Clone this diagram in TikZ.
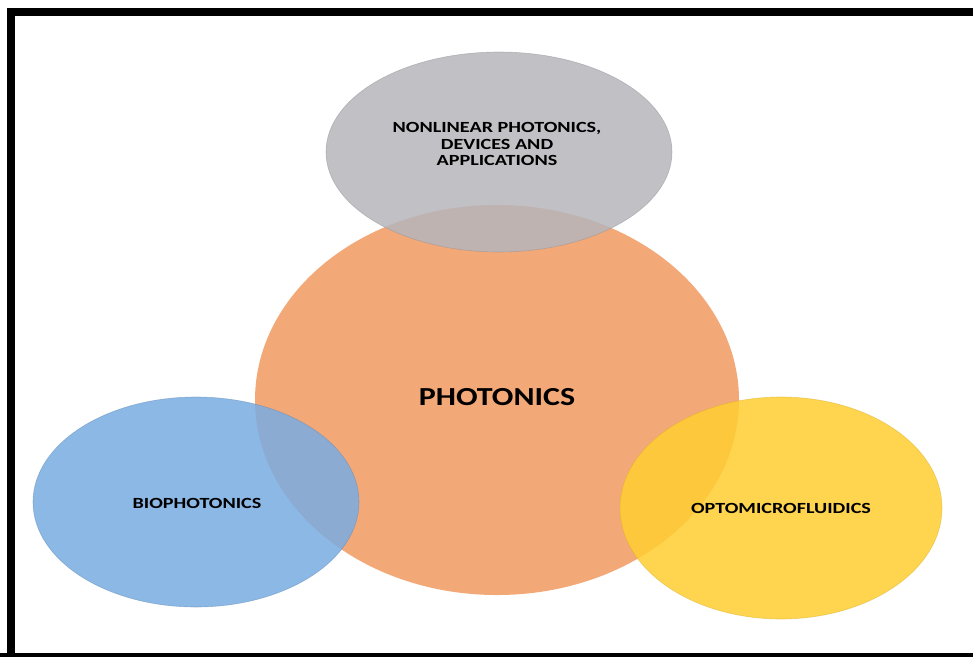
\documentclass[tikz,border=0pt]{standalone}
\usepackage{fontspec}
\setmainfont{Carlito}
\usepackage{graphicx}
\begin{document}
\begin{tikzpicture}[x=1pt,y=-1pt,
  bubble/.style={ellipse, minimum width=#1},
  lbl/.style={font=\bfseries\fontsize{15.5}{16.5}\selectfont, align=center, text=black},
  big/.style={font=\bfseries\fontsize{26}{28}\selectfont, text=black}]
\definecolor{orng}{HTML}{F3A878}
\definecolor{gry}{HTML}{B5B5BC}
\definecolor{blu}{HTML}{79ACE2}
\definecolor{ylw}{HTML}{FFCE31}
\useasboundingbox (0,0) rectangle (973,656);
\clip (0,0) rectangle (973,656);
\fill[white] (0,0) rectangle (973,656);
% ellipses
\fill[orng] (497,400) ellipse [x radius=242, y radius=195];
\filldraw[fill=gry, draw=gry!80!black, line width=0.6pt, fill opacity=0.85, draw opacity=0.5] (499,152) ellipse [x radius=173, y radius=100];
\filldraw[fill=blu, draw=blu!80!black, line width=0.6pt, fill opacity=0.85, draw opacity=0.5] (196,502) ellipse [x radius=163, y radius=105];
\filldraw[fill=ylw, draw=ylw!85!black, line width=0.6pt, fill opacity=0.85, draw opacity=0.5] (781,508) ellipse [x radius=161, y radius=111];
% labels
\node[big] (photonics) at (497,397) {\scalebox{1.23}[1]{PHOTONICS}};
\node[lbl] (nonlin) at (497,144) {\scalebox{1.3}[1]{NONLINEAR PHOTONICS,}\\\scalebox{1.3}[1]{DEVICES AND}\\\scalebox{1.3}[1]{APPLICATIONS}};
\node[lbl] (bio) at (197,503) {\scalebox{1.3}[1]{BIOPHOTONICS}};
\node[lbl] (opto) at (781,508) {\scalebox{1.3}[1]{OPTOMICROFLUIDICS}};
% frame
\draw[line width=8pt] (11,1000) -- (11,12) -- (1000,12);
\draw[line width=8pt] (0,657) -- (1000,657);
\end{tikzpicture}
\end{document}
